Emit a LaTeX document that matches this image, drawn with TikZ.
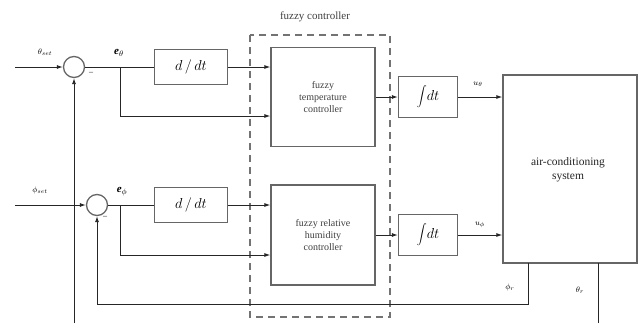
\documentclass[tikz,border=0pt]{standalone}
\usepackage{fontspec}
\setmainfont{Liberation Serif}
\usetikzlibrary{arrows.meta}
\begin{document}
\begin{tikzpicture}[x=1pt,y=-1pt,
  line/.style={draw=black!85,line width=0.9pt},
  arr/.style={line,-{Latex[length=6pt,width=4pt]}},
  blk/.style={draw=black!60,line width=1.3pt,fill=white,inner sep=0pt},
  sumj/.style={circle,draw=black!60,line width=1.3pt,minimum size=21pt,inner sep=0pt},
  lbl/.style={font=\fontsize{8.5}{9}\selectfont\itshape,inner sep=1pt},
  ftxt/.style={font=\fontsize{10}{12}\selectfont,align=center,text=black!75}]
\useasboundingbox (0,0) rectangle (638,322);
\clip (0,0) rectangle (638,322);
% dashed fuzzy controller frame
\draw[black!55,line width=1.3pt,dash pattern=on 7pt off 5pt] (250,35) rectangle (390,317);
\node[ftxt,font=\fontsize{11}{12}\selectfont] (fc) at (315,17) {fuzzy controller};
% summing junctions
\node[sumj] (s1) at (74,67) {};
\node[sumj] (s2) at (97,205) {};
% derivative blocks
\node[blk,minimum width=73pt,minimum height=35pt] (d1) at (191,67) {\fontsize{15}{15}\selectfont$d\,/\,dt$};
\node[blk,minimum width=73pt,minimum height=35pt] (d2) at (191,205) {\fontsize{15}{15}\selectfont$d\,/\,dt$};
% fuzzy controllers
\node[blk,minimum width=104pt,minimum height=99pt] (f1) at (323,97) {};
\node[ftxt] at (f1) {fuzzy\\temperature\\controller};
\node[blk,minimum width=104pt,minimum height=100pt] (f2) at (323,235) {};
\node[ftxt] at (f2) {fuzzy relative\\humidity\\controller};
% integrators
\node[blk,minimum width=59pt,minimum height=41pt] (i1) at (428,97) {\fontsize{14}{14}\selectfont$\displaystyle\int\! dt$};
\node[blk,minimum width=59pt,minimum height=41pt] (i2) at (428,235) {\fontsize{14}{14}\selectfont$\displaystyle\int\! dt$};
% system
\node[blk,minimum width=134pt,minimum height=188pt] (sys) at (570,169) {};
\node[ftxt,font=\fontsize{11.5}{14}\selectfont,text=black!85] at (568,170) {air-conditioning\\system};
% coordinates
\coordinate (in1) at (15,67);
\coordinate (in2) at (15,205);
\coordinate (b1) at (120,67);
\coordinate (b2) at (120,205);
% inputs
\draw[arr] (in1) -- (s1);
\draw[arr] (in2) -- (s2);
\node[lbl] (ts) at (45,52) {$\theta_{set}$};
\node[lbl] (ps) at (40,190) {$\phi_{set}$};
% error paths
\draw[line] (s1) -- (d1);
\draw[line] (s2) -- (d2);
\node[lbl,font=\fontsize{11}{11}\selectfont] (et) at (119,53) {\textbf{\textit{e}}$_{\theta}$};
\node[lbl,font=\fontsize{11}{11}\selectfont] (ep) at (122,192) {\textbf{\textit{e}}$_{\phi}$};
\draw[arr] (d1.east) -- (d1.east -| f1.west);
\draw[arr] (d2.east) -- (d2.east -| f2.west);
\draw[arr] (b1) -- (120,116) -- (120,116 -| f1.west);
\draw[arr] (b2) -- (120,255) -- (120,255 -| f2.west);
% to integrators
\draw[arr] (f1.east) -- (i1.west);
\draw[arr] (f2.east) -- (i2.west);
\draw[arr] (i1.east) -- (i1.east -| sys.west);
\draw[arr] (i2.east) -- (i2.east -| sys.west);
\node[lbl] (ut) at (478,84) {$u_{\theta}$};
\node[lbl] (up) at (480,225) {$u_{\phi}$};
% feedback
\draw[arr] (528,263) -- (528,304) -- (97,304) -- (s2.south);
\draw[arr] (598,263) -- (598,335) -- (74,335) -- (s1.south);
\node[lbl] (pr) at (510,287) {$\phi_{r}$};
\node[lbl] (tr) at (580,290) {$\theta_{r}$};
% minus signs
\node[font=\fontsize{8}{8}\selectfont] (m1) at (91,73) {--};
\node[font=\fontsize{8}{8}\selectfont] (m2) at (105,217) {--};
\end{tikzpicture}
\end{document}
